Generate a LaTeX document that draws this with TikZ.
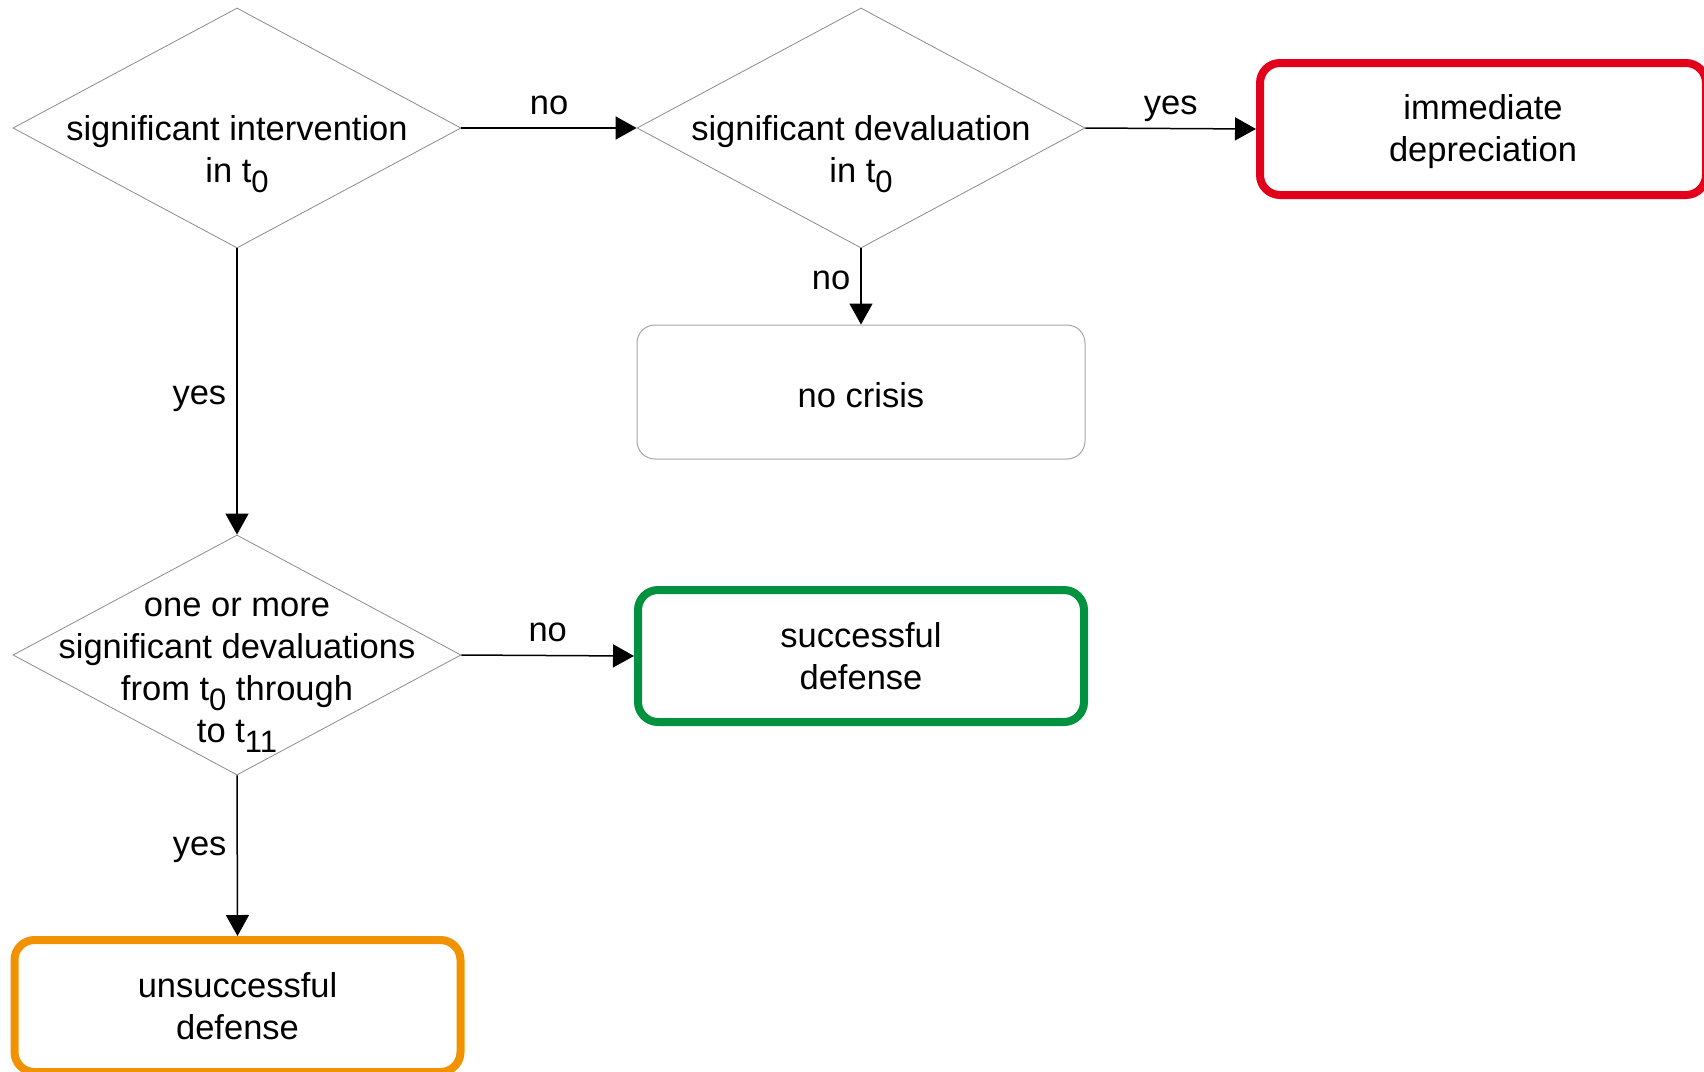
\documentclass[tikz,border=0pt]{standalone}
\usepackage{fontspec}
\setmainfont{Liberation Sans}
\usetikzlibrary{shapes.geometric,arrows.meta}
\newcommand{\mysub}[1]{\raisebox{-10pt}{\fontsize{31}{31}\selectfont #1}}
\definecolor{cred}{HTML}{E2001A}
\definecolor{cgreen}{HTML}{00923F}
\definecolor{corange}{HTML}{F39200}
\tikzset{
  dia/.style={diamond, draw=black!45, line width=0.8pt, fill=white, inner sep=0pt,
    minimum width=448pt, minimum height=240pt},
  txt/.style={align=center, inner sep=0pt, font=\fontsize{34.5}{42}\selectfont},
  endbox/.style={rectangle, rounded corners=20pt, line width=8pt, minimum width=446pt,
    minimum height=132pt, align=center, font=\fontsize{34.5}{42}\selectfont},
  plainbox/.style={rectangle, rounded corners=18pt, draw=black!35, line width=1pt,
    minimum width=448pt, minimum height=134pt, align=center, font=\fontsize{34.5}{42}\selectfont},
  conn/.style={line width=1.5pt, -{Triangle[length=21pt,width=23pt]}},
  lab/.style={font=\fontsize{34.5}{42}\selectfont, inner sep=0pt},
  labup/.style={lab, midway, anchor=base, yshift=14pt},
  lableft/.style={lab, anchor=east, xshift=-10pt, yshift=-7pt}
}
\begin{document}
\begin{tikzpicture}[x=1pt, y=-1pt]
\path[use as bounding box, clip] (0,0) rectangle (1704,1071);
\fill[white] (0,0) rectangle (1704,1071);

\node[dia] (d1) at (237,128) {};
\node[txt] (t1) at (237,154) {significant intervention\\in t\mysub{0}};
\node[dia] (d2) at (861,128) {};
\node[txt] (t2) at (861,154) {significant devaluation\\in t\mysub{0}};
\node[dia] (d3) at (237,655) {};
\node[txt] (t3) at (237,675) {one or more\\significant devaluations\\from t\mysub{0} through\\to t\mysub{11}};

\node[endbox, draw=cred] (dep) at (1483,129) {};
\node[txt] (deptxt) at (1483,132) {immediate\\depreciation};
\node[plainbox] (nc) at (861,392) {};
\node[txt] (nctxt) at (861,395) {no crisis};
\node[endbox, draw=cgreen] (sd) at (861,656) {successful\\defense};
\node[endbox, draw=corange] (ud) at (237.5,1006) {unsuccessful\\defense};

\draw[conn] (d1.east) -- node[labup] {no} (d2.west);
\draw[conn] (d2.east) -- node[labup] {yes} (dep.west);
\draw[conn] (d2.south) -- node[lableft, pos=0.33] {no} (nc.north);
\draw[conn] (d1.south) -- node[lableft, pos=0.5] {yes} (d3.north);
\draw[conn] (d3.east) -- node[labup] {no} (sd.west);
\draw[conn] (d3.south) -- node[lableft, pos=0.42] {yes} (ud.north);
\end{tikzpicture}
\end{document}
